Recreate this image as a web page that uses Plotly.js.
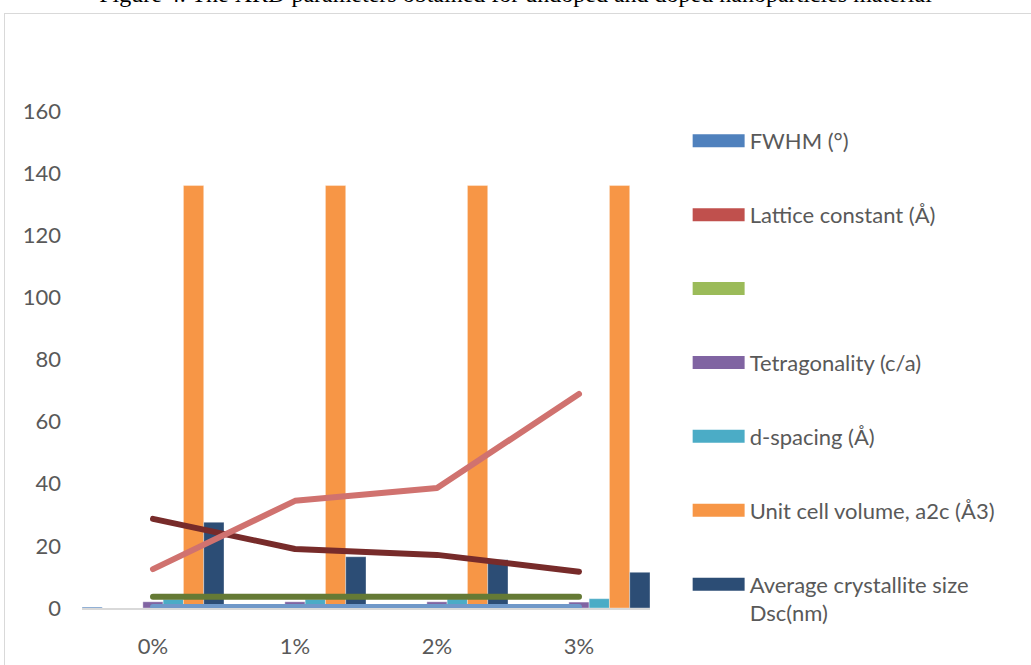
<!DOCTYPE html>
<html>
<head>
<meta charset="utf-8">
<script src="https://cdn.plot.ly/plotly-3.0.1.min.js"></script>
<style>
  html, body { margin:0; padding:0; background:#ffffff; overflow:hidden; }
  #wrap { position:relative; width:1031px; height:665px; overflow:hidden; }
  #chart { position:absolute; left:0; top:0; width:1031px; height:665px; }
  #frame { position:absolute; left:4px; top:13px; width:1100px; height:700px; border:1.5px solid #d9d9d9; pointer-events:none; }
  #cap { position:absolute; left:0; top:-19px; width:1031px; text-align:center; font-family:"Liberation Serif", serif; font-size:24px; color:#000; white-space:nowrap; }
  #chart .scatterlayer path.js-line { stroke-linecap: round; stroke-linejoin: round; }
</style>
</head>
<body>
<div id="wrap">
  <div id="cap">Figure 4. The XRD parameters obtained for undoped and doped nanoparticles material</div>
  <div id="chart"></div>
  <div id="frame"></div>
</div>
<script>
// Categories
const categories = ['0%', '1%', '2%', '3%'];

// Bar series
const fwhm        = [0.3, 0.3, 0.3, 0.3];
const latticeA    = [0, 0, 0, 0];
const unnamedBar  = [0, 0, 0, 0];
const tetragonal  = [2.0, 2.0, 2.0, 1.9];
const dSpacing    = [2.8, 2.8, 2.9, 3.0];
const cellVolume  = [136, 136, 136, 136];
const crystSize   = [27.6, 16.5, 15.5, 11.5];

// Line series (not in legend)
const lineDark    = [0, 0, 0, 0];
const lineBlue    = [0.3, 0.3, 0.3, 0.3];
const lineOlive   = [3.6, 3.6, 3.6, 3.6];
const lineMaroon  = [28.7, 19.0, 17.1, 11.7];
const linePink    = [12.5, 34.5, 38.6, 68.9];

const barNames = ['FWHM (°)', 'Lattice constant (Å)', ' ', 'Tetragonality (c/a)',
                  'd-spacing (Å)', 'Unit cell volume, a2c (Å3)', 'Average crystallite size<br>Dsc(nm)'];
const barValues = [fwhm, latticeA, unnamedBar, tetragonal, dSpacing, cellVolume, crystSize];
const barColors = ['#4f81bd', '#c0504d', '#9bbb59', '#8064a2', '#4bacc6', '#f79646', '#2c4d75'];

const traces = [];
barValues.forEach((vals, i) => {
  traces.push({
    type: 'bar', x: categories, y: vals, name: barNames[i],
    marker: { color: barColors[i], line: { color: 'rgba(255,255,255,0.35)', width: 1 } },
    legendgroup: 'g' + i, hoverinfo: 'x+y+name'
  });
});

const lineValues = [lineDark, lineBlue, lineOlive, lineMaroon, linePink];
const lineColors = ['#5a3a5c', '#6f98c9', '#657a35', '#772b2a', '#d0726f'];
const lineNames  = ['Series 8', 'Series 9', 'Series 10', 'Series 11', 'Series 12'];
lineValues.forEach((vals, i) => {
  traces.push({
    type: 'scatter', mode: 'lines', x: categories, y: vals, name: lineNames[i],
    line: { color: lineColors[i], width: 6 }, showlegend: false
  });
});

const tickFont = { family: 'Lato, "Open Sans", sans-serif', size: 22, color: '#595959' };

const layout = {
  width: 1031, height: 665,
  margin: { l: 82, r: 381, t: 111, b: 57, pad: 0 },
  paper_bgcolor: 'rgba(0,0,0,0)', plot_bgcolor: 'rgba(0,0,0,0)',
  font: tickFont,
  barmode: 'group', bargap: 0, bargroupgap: 0,
  showlegend: true,
  xaxis: {
    type: 'category', categoryorder: 'array', categoryarray: categories,
    showline: true, linecolor: '#d9d9d9', linewidth: 1.5, ticks: '',
    showgrid: false, zeroline: false, tickfont: tickFont, ticklabelstandoff: 18,
    fixedrange: true
  },
  yaxis: {
    range: [0, 160], dtick: 20, tick0: 0, showgrid: false, zeroline: false, showline: false,
    ticks: '', tickfont: tickFont, ticklabelstandoff: 20, fixedrange: true
  },
  legend: {
    x: 1.105, xanchor: 'left', y: 0.982, yanchor: 'top',
    font: { family: 'Lato, "Open Sans", sans-serif', size: 22, color: '#595959' },
    traceorder: 'grouped', tracegroupgap: 42.3, valign: 'top', maxheight: 600,
    bgcolor: 'rgba(0,0,0,0)', itemclick: false, itemdoubleclick: false
  }
};

Plotly.newPlot('chart', traces, layout, { displayModeBar: false, staticPlot: true }).then(() => {
  // let the wide swatches extend past the legend's clip box
  document.querySelectorAll('#chart .legend [clip-path]').forEach(el => el.removeAttribute('clip-path'));
  // widen the legend swatches to the wide rectangles of the reference
  document.querySelectorAll('#chart .legend .legendpoints path').forEach(p => {
    p.setAttribute('transform', 'translate(9,0) scale(4.33,1.08)');
    p.style.strokeWidth = '0';
  });
  // rounded line ends as in the reference
  document.querySelectorAll('#chart .scatterlayer path.js-line').forEach(p => {
    p.style.strokeLinecap = 'round';
    p.style.strokeLinejoin = 'round';
  });
});
</script>
</body>
</html>
